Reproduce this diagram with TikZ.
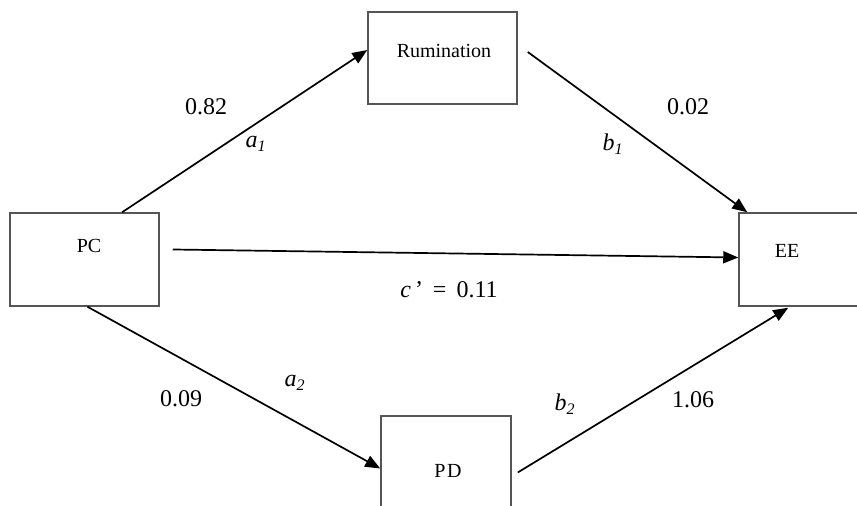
\documentclass[tikz,border=0pt]{standalone}
\usepackage{fontspec}
\setmainfont{Liberation Serif}
\usetikzlibrary{arrows.meta,calc}
\definecolor{boxgray}{RGB}{85,85,85}
\begin{document}
\begin{tikzpicture}[x=0.5pt,y=-0.5pt,
  box/.style={draw=boxgray,line width=0.75pt,rectangle,inner sep=0pt},
  lab/.style={font=\fontsize{10}{12}\selectfont,inner sep=0pt},
  num/.style={font=\fontsize{12}{14}\selectfont,inner sep=0pt},
  conn/.style={draw=black,line width=0.85pt,-{Triangle[length=7.5pt,width=6pt]}}]
\clip (0,0) rectangle (857,506);
% boxes
\node[box,minimum width=74.5pt,minimum height=46.5pt] (pc) at (84.5,259.5) {};
\node[box,minimum width=74.5pt,minimum height=46pt] (rum) at (442.5,58) {};
\node[box,minimum width=65.5pt,minimum height=46.5pt] (ee) at (804.5,259.5) {};
\node[box,minimum width=65pt,minimum height=54.5pt] (pd) at (446,470.5) {};
% box texts
\node[lab] (pct) at (89,246) {PC};
\node[lab] (rumt) at (444,51) {Rumination};
\node[lab] (eet) at (787,251) {EE};
\node[lab] (pdt) at (448,471) {P\kern0.8pt D};
% connectors
\draw[conn] ($(pc.north west)!0.75!(pc.north east)$) -- ($(rum.west)+(0,-8)$);
\draw[conn] ($(rum.east)+(10,-6)$) -- ($(ee.north west)+(9,0)$);
\draw[conn] ($(pc.east)+(13,-10)$) -- ($(ee.west)+(0,-2)$);
\draw[conn] ($(pc.south)+(3,0)$) -- ($(pd.west)+(0,-2)$);
\draw[conn] ($(pd.east)+(6,2)$) -- ($(ee.south west)+(50,1)$);
% coefficient labels
\node[num] (w1) at (206,107) {0.82};
\node[num] (la1) at (256,144) {\textit{a}\textsubscript{\textit{1}}};
\node[num] (w2) at (688,107) {0.02};
\node[num] (lb1) at (613,144) {\textit{b}\textsubscript{\textit{1}}};
\node[num] (wc) at (449,290) {\textit{c}\,’\, = \,0.11};
\node[num] (w3) at (181,399) {0.09};
\node[num] (la2) at (295,383) {\textit{a}\textsubscript{\textit{2}}};
\node[num] (lb2) at (565,404) {\textit{b}\textsubscript{\textit{2}}};
\node[num] (w4) at (693,400) {1.06};
\end{tikzpicture}
\end{document}
